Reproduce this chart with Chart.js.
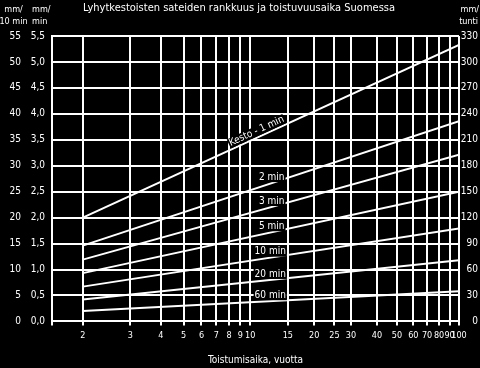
<!DOCTYPE html>
<html>
<head>
<meta charset="utf-8">
<script src="https://cdn.jsdelivr.net/npm/chart.js@4.4.1/dist/chart.umd.min.js"></script>
<style>
  html, body { margin: 0; padding: 0; background: #000; }
  #wrap { width: 480px; height: 368px; }
</style>
</head>
<body>
<div id="wrap"><canvas id="chart"></canvas></div>
<script>
// Return periods (years) at the two ends of each line
const RETURN_PERIODS = [2, 100];

// Rain intensity, mm/min, read at T = 2 and T = 100
const DUR_1MIN = [2.0, 5.33];
const DUR_2MIN = [1.46, 3.86];
const DUR_3MIN = [1.19, 3.21];
const DUR_5MIN = [0.93, 2.50];
const DUR_10MIN = [0.67, 1.79];
const DUR_20MIN = [0.42, 1.18];
const DUR_60MIN = [0.20, 0.58];

const SERIES = [DUR_1MIN, DUR_2MIN, DUR_3MIN, DUR_5MIN, DUR_10MIN, DUR_20MIN, DUR_60MIN];
const SERIES_LABELS = ['Kesto - 1 min', '2 min', '3 min', '5 min', '10 min', '20 min', '60 min'];
// return period where each line label sits
const LABEL_AT = [11, 12.6, 12.6, 12.6, 12.4, 12.4, 12.4];

const X_TICKS = [2, 3, 4, 5, 6, 7, 8, 9, 10, 15, 20, 25, 30, 40, 50, 60, 70, 80, 90, 100];

const TITLE = 'Lyhytkestoisten sateiden rankkuus ja toistuvuusaika Suomessa';
const X_TITLE = 'Toistumisaika, vuotta';
const HEAD_10MIN = ['mm/', '10 min'];
const HEAD_MIN = ['mm/', 'min'];
const HEAD_HOUR = ['mm/', 'tunti'];

// Gumbel reduced variate, the x axis is linear in this
const gumbel = T => -Math.log(-Math.log(1 - 1 / T));
const X_MIN = 0.02;

const FONT = "'DejaVu Sans Condensed', 'Liberation Sans Narrow', sans-serif";
Chart.defaults.font.family = FONT;
Chart.defaults.font.size = 10;
Chart.defaults.color = '#fff';

const blackBg = {
    id: 'blackBg',
    beforeDraw(chart) {
        const ctx = chart.ctx;
        ctx.save();
        ctx.fillStyle = '#000';
        ctx.fillRect(0, 0, chart.width, chart.height);
        ctx.restore();
    }
};

const lineLabels = {
    id: 'lineLabels',
    afterDatasetsDraw(chart) {
        const { ctx, scales: { x, y } } = chart;
        ctx.font = '10px ' + FONT;
        ctx.textAlign = 'center';
        ctx.textBaseline = 'middle';
        chart.data.datasets.forEach((ds, i) => {
            const p0 = ds.data[0], p1 = ds.data[1];
            const u = gumbel(LABEL_AT[i]);
            const f = (u - p0.x) / (p1.x - p0.x);
            const v = p0.y + f * (p1.y - p0.y);
            const px = x.getPixelForValue(u);
            const py = y.getPixelForValue(v);
            let angle = 0;
            if (i === 0) {
                angle = Math.atan2(y.getPixelForValue(p1.y) - y.getPixelForValue(p0.y),
                    x.getPixelForValue(p1.x) - x.getPixelForValue(p0.x));
            }
            const text = SERIES_LABELS[i];
            const w = ctx.measureText(text).width;
            ctx.save();
            ctx.translate(px, py);
            ctx.rotate(angle);
            ctx.fillStyle = '#000';
            ctx.fillRect(-w / 2 - 1, -11, w + 2, 10);
            ctx.fillStyle = '#fff';
            ctx.fillText(text, 0, -6);
            ctx.restore();
        });
    }
};

const headers = {
    id: 'headers',
    afterDraw(chart) {
        const { ctx, scales } = chart;
        ctx.save();
        ctx.font = '9px ' + FONT;
        ctx.fillStyle = '#fff';
        ctx.textBaseline = 'middle';
        ctx.textAlign = 'center';
        const c10 = (scales.y10.left + scales.y10.right) / 2;
        ctx.fillText(HEAD_10MIN[0], c10, 10);
        ctx.fillText(HEAD_10MIN[1], c10, 22);
        ctx.textAlign = 'left';
        ctx.fillText(HEAD_MIN[0], scales.y.left + 5, 10);
        ctx.fillText(HEAD_MIN[1], scales.y.left + 5, 22);
        ctx.textAlign = 'right';
        ctx.fillText(HEAD_HOUR[0], chart.width - 1, 10);
        ctx.fillText(HEAD_HOUR[1], chart.width - 2, 22);
        ctx.restore();
    }
};

const datasets = SERIES.map((vals, i) => ({
    label: SERIES_LABELS[i],
    yAxisID: 'y',
    data: RETURN_PERIODS.map((t, j) => ({ x: gumbel(t), y: vals[j] })),
    borderColor: '#fff',
    borderWidth: 2,
    pointRadius: 0,
    fill: false,
}));

new Chart(document.getElementById('chart').getContext('2d'), {
    type: 'line',
    data: { datasets },
    plugins: [blackBg, lineLabels, headers],
    options: {
        responsive: true,
        maintainAspectRatio: false,
        animation: false,
        layout: { padding: { left: 0, right: 2, top: 0, bottom: 0 } },
        plugins: {
            legend: { display: false },
            tooltip: { enabled: false },
            title: {
                display: true,
                text: TITLE,
                color: '#fff',
                font: { size: 11, weight: 'normal' },
                padding: { top: 2, bottom: 20.8 },
            },
        },
        scales: {
            x: {
                type: 'linear',
                min: X_MIN,
                max: gumbel(100),
                afterBuildTicks(s) {
                    s.ticks = [{ value: X_MIN }, ...X_TICKS.map(t => ({ value: gumbel(t) }))];
                },
                ticks: {
                    autoSkip: false,
                    maxRotation: 0,
                    padding: 4.6,
                    font: { size: 9 },
                    callback: (v, i) => (i === 0 ? '' : String(X_TICKS[i - 1])),
                },
                grid: { color: '#fff', lineWidth: 2, tickLength: 4, tickColor: '#fff' },
                border: { color: '#fff', width: 2 },
                title: { display: true, text: X_TITLE, color: '#fff', font: { size: 10 }, padding: { top: 8.6, bottom: 2 } },
            },
            y10: {
                position: 'left',
                weight: 2,
                min: 0,
                max: 55,
                ticks: { stepSize: 5, padding: 6 },
                grid: { display: false, drawTicks: false },
                border: { display: false },
                afterFit(s) { s.width = 27; },
            },
            y: {
                position: 'left',
                weight: 1,
                min: 0,
                max: 5.5,
                ticks: { stepSize: 0.5, padding: 7, callback: v => v.toFixed(1).replace('.', ',') },
                grid: { color: '#fff', lineWidth: 2, drawTicks: false },
                border: { color: '#fff', width: 2 },
                afterFit(s) { s.width = 25; },
            },
            yh: {
                position: 'right',
                min: 0,
                max: 330,
                ticks: { stepSize: 30, crossAlign: 'far' },
                grid: { display: false, drawTicks: false },
                border: { display: false },
                afterFit(s) { s.width = 19; },
            },
        },
    },
});
</script>
</body>
</html>
